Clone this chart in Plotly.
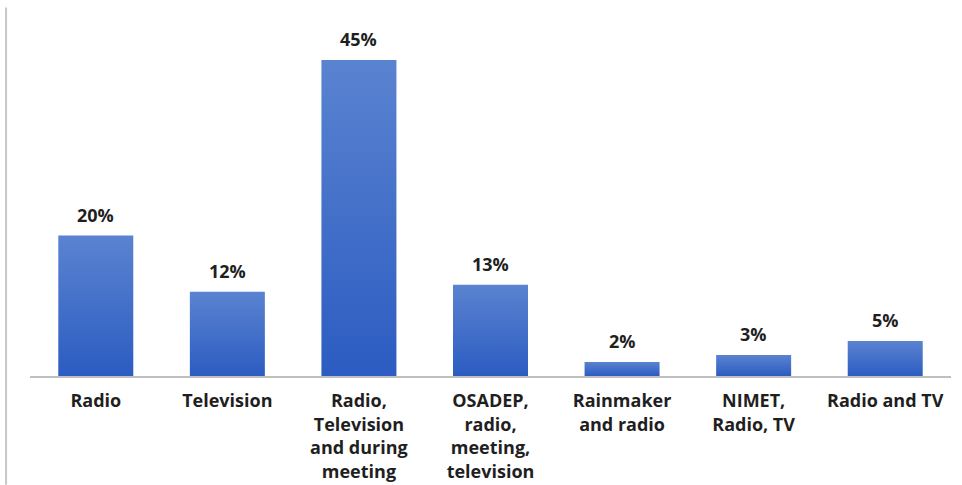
import plotly.graph_objects as go

# Sources of weather information used by respondents
categories = [
    "Radio",
    "Television",
    "Radio,<br>Television<br>and during<br>meeting",
    "OSADEP,<br>radio,<br>meeting,<br>television",
    "Rainmaker<br>and radio",
    "NIMET,<br>Radio, TV",
    "Radio and TV",
]
shares = [20, 12, 45, 13, 2, 3, 5]
share_labels = [f"{v}%" for v in shares]

FONT = "Open Sans"
INK = "#1f1f1f"

fig = go.Figure(
    go.Bar(
        x=categories,
        y=shares,
        marker=dict(color="#3d6cc8", line=dict(width=0)),
        width=0.57,
        hoverinfo="skip",
    )
)

# value labels sitting above each bar
for cat, val, lab in zip(categories, shares, share_labels):
    fig.add_annotation(
        x=cat, y=val, text=lab, showarrow=False,
        yanchor="bottom", yshift=7,
        font=dict(family=FONT, size=18, color=INK, weight="bold"),
    )

fig.update_layout(
    width=962,
    height=485,
    margin=dict(l=30, r=11, t=25, b=109, autoexpand=False),
    paper_bgcolor="white",
    plot_bgcolor="white",
    showlegend=False,
    bargap=0.43,
    xaxis=dict(
        automargin=False,
        showline=True,
        linecolor="#bfbfbf",
        linewidth=1.5,
        ticks="",
        showgrid=False,
        tickangle=0,
        ticklabelstandoff=8,
        tickfont=dict(family=FONT, size=18, color=INK, weight="bold"),
        fixedrange=True,
    ),
    yaxis=dict(
        automargin=False,
        range=[0, 50],
        visible=False,
        showgrid=False,
        zeroline=False,
        fixedrange=True,
    ),
    shapes=[
        # thin frame edge on the left side of the panel
        dict(type="line", xref="paper", yref="paper",
             x0=-0.026, x1=-0.026, y0=-0.31, y1=1.05,
             line=dict(color="#c8c8c8", width=2)),
    ],
)

# vertical light-to-dark gradient on the bars
gradient_js = """
var gd = document.getElementById('{plot_id}');
function applyGradient() {
  var svg = gd.querySelector('svg.main-svg');
  if (!svg) return;
  var ns = 'http://www.w3.org/2000/svg';
  var defs = svg.querySelector('defs') || svg.insertBefore(document.createElementNS(ns, 'defs'), svg.firstChild);
  if (!svg.querySelector('#barGrad')) {
    var g = document.createElementNS(ns, 'linearGradient');
    g.setAttribute('id', 'barGrad');
    g.setAttribute('x1', '0'); g.setAttribute('y1', '0');
    g.setAttribute('x2', '0'); g.setAttribute('y2', '1');
    var stops = [['0%', '#5a83d0'], ['100%', '#2c5cc2']];
    stops.forEach(function(s) {
      var st = document.createElementNS(ns, 'stop');
      st.setAttribute('offset', s[0]);
      st.setAttribute('stop-color', s[1]);
      g.appendChild(st);
    });
    defs.appendChild(g);
  }
  gd.querySelectorAll('.bars .point path').forEach(function(p) {
    p.style.fill = 'url(#barGrad)';
  });
}
applyGradient();
"""

fig.write_html("out.html", post_script=gradient_js)
